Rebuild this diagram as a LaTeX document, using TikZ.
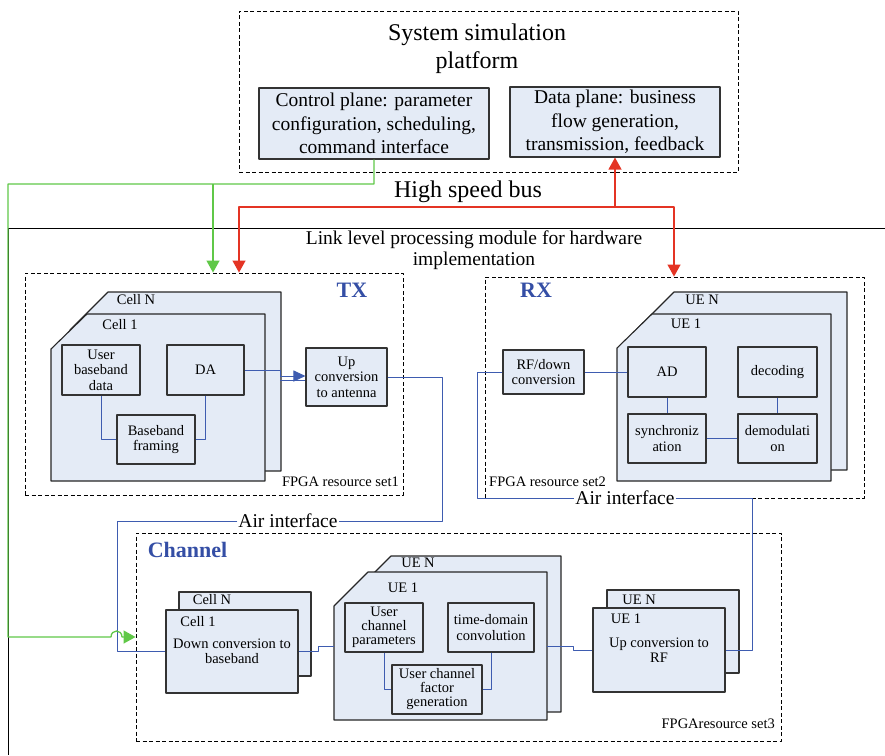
\documentclass[tikz,border=0pt]{standalone}
\usepackage{fontspec}
\setmainfont{Liberation Serif}
\usetikzlibrary{arrows.meta}

\definecolor{boxfill}{RGB}{228,235,246}
\definecolor{linkblue}{RGB}{62,92,176}
\definecolor{titleblue}{RGB}{52,78,165}
\definecolor{busgreen}{RGB}{96,200,72}
\definecolor{busred}{RGB}{228,52,36}

\tikzset{
  blk/.style={draw=black!80, fill=boxfill, line width=1.1pt, align=center, inner sep=1pt,
    font=\fontsize{14.5}{15.5}\selectfont},
  planebox/.style={blk, font=\fontsize{19.5}{23.5}\selectfont},
  card/.style={draw=black!85, fill=boxfill, line width=1.1pt},
  frame/.style={draw, dashed, dash pattern=on 4pt off 2.5pt, line width=0.9pt, inner sep=0pt},
  link/.style={draw=linkblue, line width=1pt},
  gbus/.style={draw=busgreen, line width=1.3pt},
  rbus/.style={draw=busred, line width=1.3pt},
  lbl/.style={font=\fontsize{14.5}{15.5}\selectfont, inner sep=0pt},
  head/.style={font=\bfseries\fontsize{22}{24}\selectfont, text=titleblue, inner sep=0pt},
  airlbl/.style={font=\fontsize{19.5}{21}\selectfont, fill=white, inner sep=1pt},
}

\begin{document}
\begin{tikzpicture}[x=1pt, y=-1pt, line join=round, >={Triangle[width=13pt,length=12pt]}]
\useasboundingbox (0,0) rectangle (885,755);

% system simulation platform
\node[frame, minimum width=499pt, minimum height=161pt] (sysf) at (488.5,91.5) {};
\node[font=\fontsize{24}{28}\selectfont, align=center] (systitle) at (477,49) {System simulation\\platform};
\node[planebox, minimum width=230pt, minimum height=71pt] (ctrl) at (374,123.5) {Control plane: parameter\\configuration, scheduling,\\command interface};
\node[planebox, minimum width=210pt, minimum height=70pt] (data) at (615,122) {Data plane: business\\flow generation,\\transmission, feedback};
\node[font=\fontsize{24}{28}\selectfont] (busname) at (468,192) {High speed bus};

% hardware side
\draw[line width=1pt] (885,228) -- (8,228) -- (8,755);
\node[font=\fontsize{19.5}{21}\selectfont, align=center] (linkmod) at (474,250) {Link level processing module for hardware\\implementation};

% TX
\node[frame, minimum width=378pt, minimum height=222pt] (txf) at (214,384) {};
\node[head] (txname) at (352,290) {TX};
\filldraw[card] (108,292) -- (281,292) -- (281,471) -- (70,471) -- (70,330) -- cycle;
\filldraw[card] (87,314) -- (265,314) -- (265,481) -- (51,481) -- (51,349) -- cycle;
\node[lbl] (txcn) at (136,300) {Cell N};
\node[lbl] (txc1) at (120,325) {Cell 1};
\node[blk, minimum width=78pt, minimum height=50pt] (ubd) at (101,370) {User\\baseband\\data};
\node[blk, minimum width=77pt, minimum height=50pt] (da) at (205.5,370) {DA};
\node[blk, minimum width=78pt, minimum height=49pt] (bbf) at (156,439.5) {Baseband\\framing};
\node[blk, minimum width=81pt, minimum height=58pt] (upant) at (346.5,377) {Up\\conversion\\to antenna};
\node[lbl, anchor=east] (set1) at (399,482) {FPGA resource set1};
\draw[link] (ubd.south) |- (bbf.west);
\draw[link] (da.south) |- (bbf.east);
\draw[link, -{Triangle[width=11pt,length=12pt]}] (da.east) -| (280,376) -- (upant.west |- 0,376);
\draw[link] (280,380) -- (upant.west |- 0,380);

% RX
\node[frame, minimum width=379pt, minimum height=221pt] (rxf) at (674.5,387.5) {};
\node[head] (rxname) at (536,290) {RX};
\filldraw[card] (674,292) -- (847,292) -- (847,470) -- (636,470) -- (636,330) -- cycle;
\filldraw[card] (652,314) -- (831,314) -- (831,481) -- (617,481) -- (617,348) -- cycle;
\node[lbl] (rxun) at (702,300) {UE N};
\node[lbl] (rxu1) at (686,324) {UE 1};
\node[blk, minimum width=81pt, minimum height=44pt] (rfd) at (543.5,372) {RF/down\\conversion};
\node[blk, minimum width=78pt, minimum height=50pt] (ad) at (667,372) {AD};
\node[blk, minimum width=79pt, minimum height=50pt] (dec) at (777.5,372) {decoding};
\node[blk, minimum width=78pt, minimum height=49pt] (syn) at (667,438.5) {synchroniz\\ation};
\node[blk, minimum width=79pt, minimum height=49pt] (dem) at (777.5,438.5) {demodulati\\on};
\node[lbl, anchor=west] (set2) at (489,482) {FPGA resource set2};
\draw[link] (rfd.east) -- (ad.west);
\draw[link] (ad.south) -- (syn.north);
\draw[link] (dec.south) -- (dem.north);
\draw[link] (syn.east) -- (dem.west);

% channel
\node[frame, minimum width=645pt, minimum height=208pt] (chf) at (458.5,637) {};
\node[head] (chname) at (187.5,550) {Channel};
\node[blk, minimum width=132pt, minimum height=84pt] (chcn) at (245,634) {};
\node[blk, minimum width=132pt, minimum height=83pt] (dcb) at (232,651.5) {Down conversion to\\baseband};
\node[lbl] (chcnl) at (212,600) {Cell N};
\node[lbl] (chc1l) at (198,622) {Cell 1};
\filldraw[card] (391,556) -- (561,556) -- (561,712) -- (360,712) -- (360,587) -- cycle;
\filldraw[card] (368,572) -- (547,572) -- (547,720) -- (334,720) -- (334,606) -- cycle;
\node[lbl] (chun) at (418,563) {UE N};
\node[lbl] (chu1) at (403,588) {UE 1};
\coordinate (ue1w) at (334,646);
\coordinate (ue1e) at (547,646);
\node[blk, minimum width=78pt, minimum height=49pt, font=\fontsize{14.5}{14}\selectfont] (ucp) at (384,627.5) {User\\channel\\parameters};
\node[blk, minimum width=86pt, minimum height=49pt] (tdc) at (491,627.5) {time-domain\\convolution};
\node[blk, minimum width=90pt, minimum height=49pt, font=\fontsize{14.5}{14}\selectfont] (ucf) at (437,689.5) {User channel\\factor\\generation};
\node[blk, minimum width=132pt, minimum height=83pt] (rfun) at (673,631.5) {};
\node[blk, minimum width=132pt, minimum height=84pt] (uprf) at (659,650) {Up conversion to\\RF};
\node[lbl] (rfunl) at (639,600) {UE N};
\node[lbl] (rfu1l) at (626,619) {UE 1};
\node[lbl, anchor=east] (set3) at (775,724) {FPGAresource set3};
\draw[link] (dcb.east) -- ++(20,0) |- (ue1w);
\draw[link] (ucp.south) |- (ucf.west);
\draw[link] (tdc.south) |- (ucf.east);
\draw[link] (ue1e) -- (573,646) |- (uprf.west);

% air interfaces
\node[airlbl] (air1) at (288,521) {Air interface};
\node[airlbl] (air2) at (625,498) {Air interface};
\draw[link] (upant.east) -| (442,0 |- air1.east) -- (air1.east);
\draw[link] (air1.west) -| (117,0 |- dcb.west) -- (dcb.west);
\draw[link] (rfd.west) -| (477,0 |- air2.west) -- (air2.west);
\draw[link] (air2.east) -| (752,0 |- uprf.east) -- (uprf.east);

% high speed bus
\coordinate (gsplit) at (213,184);
\coordinate (rsplit) at (data.south |- 0,207);
\draw[gbus, ->] (ctrl.south) |- (8,184) -- (8,637) -- (111,637) .. controls (111,629) and (122,629) .. (122,637) -- (chf.west |- 0,637);
\draw[gbus, ->] (gsplit) -- (gsplit |- txf.north);
\draw[rbus, ->] (rsplit) -- (data.south);
\draw[rbus, ->] (rsplit) -| (239,0 |- txf.north);
\draw[rbus, ->] (rsplit) -| (674,0 |- rxf.north);
\end{tikzpicture}
\end{document}
